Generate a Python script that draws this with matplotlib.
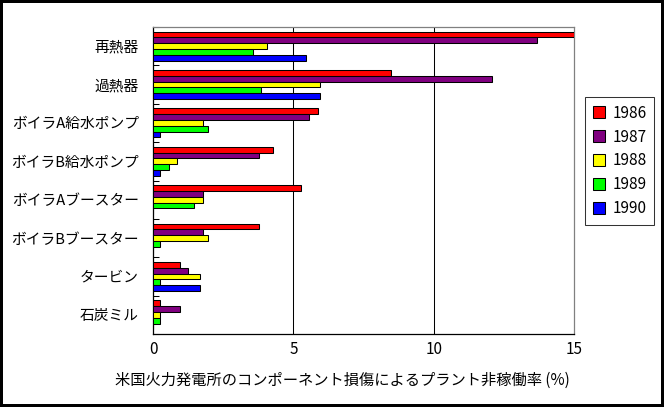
import matplotlib
matplotlib.use("Agg")
import matplotlib.pyplot as plt
import numpy as np

plt.rcParams['font.family'] = ['Noto Sans CJK JP', 'DejaVu Sans']

categories = ['再熱器', '過熱器', 'ボイラA給水ポンプ', 'ボイラB給水ポンプ',
              'ボイラAブースター', 'ボイラBブースター', 'タービン', '石炭ミル']
years = ['1986', '1987', '1988', '1989', '1990']
colors = ['#ff0000', '#800080', '#ffff00', '#00ff00', '#0000ff']

v1986 = [15.0, 8.48, 5.88, 4.29, 5.29, 3.79, 0.97, 0.25]
v1987 = [13.68, 12.08, 5.57, 3.79, 1.78, 1.78, 1.25, 0.97]
v1988 = [4.06, 5.95, 1.78, 0.86, 1.78, 1.96, 1.67, 0.24]
v1989 = [3.56, 3.85, 1.96, 0.57, 1.46, 0.25, 0.25, 0.25]
v1990 = [5.45, 5.95, 0.25, 0.25, 0.0, 0.0, 1.67, 0.0]
series = [v1986, v1987, v1988, v1989, v1990]

xticks = [0, 5, 10, 15]
xlabel = '米国火力発電所のコンポーネント損傷によるプラント非稼働率 (%)'

fig = plt.figure(figsize=(6.64, 4.07), dpi=100)
fig.patch.set_edgecolor('black')
fig.patch.set_linewidth(3.0)
ax = fig.add_axes([153 / 664, 73 / 407, 421 / 664, 307 / 407])

n = len(categories)
h = 0.151
centers = np.arange(n) + 0.5
for j, (vals, c, yr) in enumerate(zip(series, colors, years)):
    ax.barh(centers + (j - 2) * h, vals, height=h, color=c,
            edgecolor='black', linewidth=0.75, label=yr, zorder=3)

ax.set_ylim(n, 0)
ax.set_xlim(0, 15)

# ticks at category boundaries, labels at centres
ax.set_yticks(np.arange(n + 1))
ax.set_yticklabels([])
ax.tick_params(axis='y', which='major', direction='in', length=4, width=0.75)
ax.set_yticks(centers, minor=True)
ax.set_yticklabels(categories, minor=True, fontsize=10.6)
ax.tick_params(axis='y', which='minor', length=0, pad=10)

ax.set_xticks(xticks)
ax.set_xticklabels([str(t) for t in xticks], fontsize=11)
ax.tick_params(axis='x', length=0, pad=5)

for x in [5, 10]:
    ax.axvline(x, color='black', linewidth=0.75, zorder=1)

ax.spines['left'].set_color('black')
ax.spines['bottom'].set_color('black')
ax.spines['top'].set_color('gray')
ax.spines['right'].set_color('gray')
for s in ax.spines.values():
    s.set_linewidth(0.9)

fig.text(342 / 664, 1 - 380 / 407, xlabel, fontsize=11, ha='center', va='center')

leg = fig.legend(loc='upper left', bbox_to_anchor=(585 / 664, 1 - 97 / 407),
                 fontsize=11, frameon=True, fancybox=False, edgecolor='black',
                 handlelength=0.8, handleheight=0.8, handletextpad=0.5,
                 labelspacing=0.45, borderpad=0.5, borderaxespad=0)
leg.get_frame().set_linewidth(0.75)

fig.savefig('out.png', dpi=100)
